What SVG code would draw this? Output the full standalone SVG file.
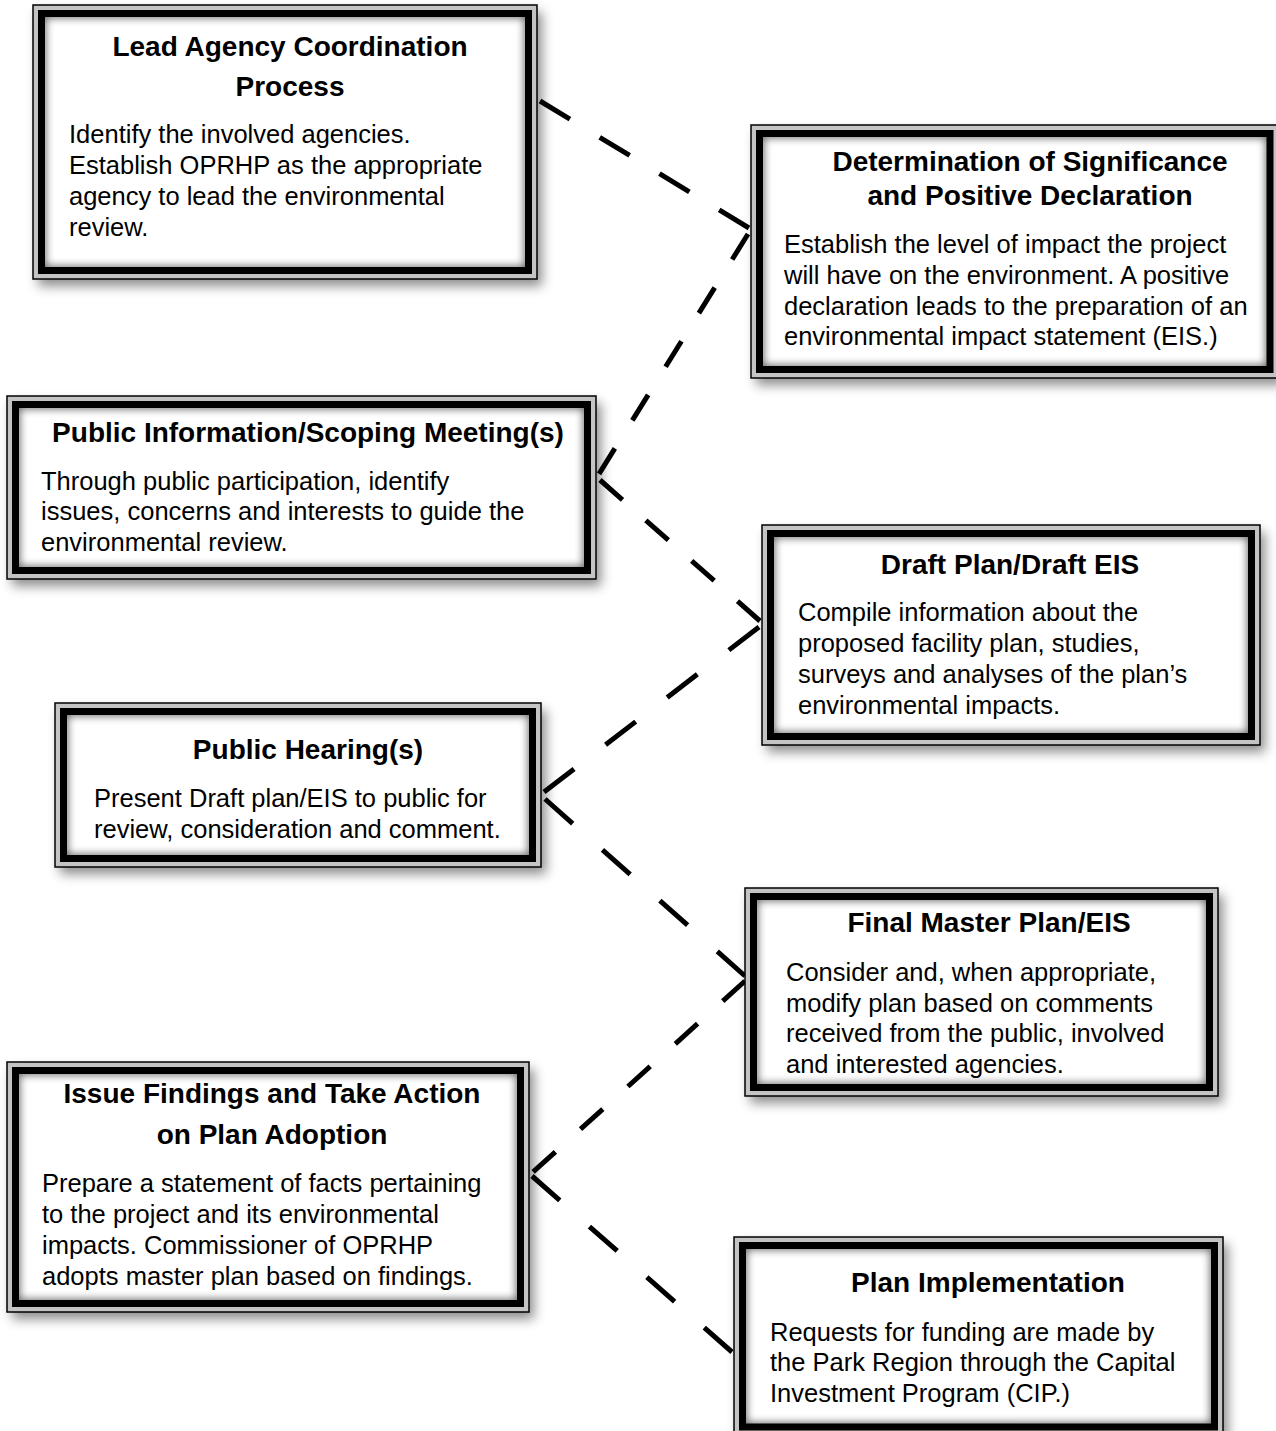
<svg xmlns="http://www.w3.org/2000/svg" width="1276" height="1431" viewBox="0 0 1276 1431">
<defs>
<filter id="ds" x="-10%" y="-10%" width="130%" height="130%">
<feDropShadow dx="5" dy="7" stdDeviation="6" flood-color="#000" flood-opacity="0.45"/>
</filter>
<filter id="blur" x="-10%" y="-10%" width="120%" height="120%">
<feGaussianBlur stdDeviation="4.5"/>
</filter>
<clipPath id="inner" clipPathUnits="objectBoundingBox"><rect x="0" y="0" width="1" height="1"/></clipPath>
<style>
.sh{fill:#fff;filter:url(#ds)}
.band{fill:#c4c4c4;stroke:#000;stroke-width:1.5}
.in{fill:#fff}
.ish{fill:none;stroke:#000;stroke-width:8;filter:url(#blur);clip-path:url(#inner);opacity:0.65}
.thick{fill:none;stroke:#000;stroke-width:7}
text{font-family:"Liberation Sans",Arial,Helvetica,sans-serif;fill:#000}
.t{font-size:28px;font-weight:bold;text-anchor:middle}
.b{font-size:25.5px}
.c{fill:none;stroke:#000;stroke-width:5;stroke-linecap:butt}
</style>
</defs>
<rect width="1276" height="1431" fill="#fff"/>

<g id="connectors">
<line class="c" x1="540" y1="101" x2="749" y2="228" stroke-dasharray="35 34.9"/>
<line class="c" x1="748" y1="234" x2="599" y2="474" stroke-dasharray="30 33.1"/>
<line class="c" x1="600" y1="480" x2="760" y2="621" stroke-dasharray="30 31.1"/>
<line class="c" x1="759" y1="627" x2="544" y2="792" stroke-dasharray="38 39.7"/>
<line class="c" x1="545" y1="799" x2="745" y2="976" stroke-dasharray="37 39.7"/>
<line class="c" x1="745" y1="981" x2="533" y2="1172" stroke-dasharray="30 33.8"/>
<line class="c" x1="532" y1="1176" x2="732" y2="1352" stroke-dasharray="37 39.5"/>
</g>

<g id="lead-agency">
<rect class="sh" x="33" y="5" width="504" height="274"/>
<rect class="band" x="33" y="5" width="504" height="274"/>
<rect class="in" x="41.5" y="13.5" width="487" height="257"/>
<rect class="ish" x="41.5" y="13.5" width="487" height="257"/>
<rect class="thick" x="41.5" y="13.5" width="487" height="257"/>
<text class="t" x="290" y="56">Lead Agency Coordination</text>
<text class="t" x="290" y="96">Process</text>
<text class="b" x="69" y="143">Identify the involved agencies.</text>
<text class="b" x="69" y="174">Establish OPRHP as the appropriate</text>
<text class="b" x="69" y="205">agency to lead the environmental</text>
<text class="b" x="69" y="236">review.</text>
</g>

<g id="determination">
<rect class="sh" x="751" y="125" width="527.5" height="253"/>
<rect class="band" x="751" y="125" width="527.5" height="253"/>
<rect class="in" x="759.5" y="133.5" width="510.5" height="236"/>
<rect class="ish" x="759.5" y="133.5" width="510.5" height="236"/>
<rect class="thick" x="759.5" y="133.5" width="510.5" height="236"/>
<text class="t" x="1030" y="171">Determination of Significance</text>
<text class="t" x="1030" y="205">and Positive Declaration</text>
<text class="b" x="784" y="253">Establish the level of impact the project</text>
<text class="b" x="784" y="284">will have on the environment. A positive</text>
<text class="b" x="784" y="315">declaration leads to the preparation of an</text>
<text class="b" x="784" y="345">environmental impact statement (EIS.)</text>
</g>

<g id="public-information">
<rect class="sh" x="7" y="396" width="589" height="183"/>
<rect class="band" x="7" y="396" width="589" height="183"/>
<rect class="in" x="15.5" y="404.5" width="572" height="166"/>
<rect class="ish" x="15.5" y="404.5" width="572" height="166"/>
<rect class="thick" x="15.5" y="404.5" width="572" height="166"/>
<text class="t" x="308" y="442">Public Information/Scoping Meeting(s)</text>
<text class="b" x="41" y="490">Through public participation, identify</text>
<text class="b" x="41" y="520">issues, concerns and interests to guide the</text>
<text class="b" x="41" y="551">environmental review.</text>
</g>

<g id="draft-plan">
<rect class="sh" x="762" y="525" width="498" height="220"/>
<rect class="band" x="762" y="525" width="498" height="220"/>
<rect class="in" x="770.5" y="533.5" width="481" height="203"/>
<rect class="ish" x="770.5" y="533.5" width="481" height="203"/>
<rect class="thick" x="770.5" y="533.5" width="481" height="203"/>
<text class="t" x="1010" y="574">Draft Plan/Draft EIS</text>
<text class="b" x="798" y="621">Compile information about the</text>
<text class="b" x="798" y="652">proposed facility plan, studies,</text>
<text class="b" x="798" y="683">surveys and analyses of the plan’s</text>
<text class="b" x="798" y="714">environmental impacts.</text>
</g>

<g id="public-hearing">
<rect class="sh" x="55" y="703" width="486" height="164"/>
<rect class="band" x="55" y="703" width="486" height="164"/>
<rect class="in" x="63.5" y="711.5" width="469" height="147"/>
<rect class="ish" x="63.5" y="711.5" width="469" height="147"/>
<rect class="thick" x="63.5" y="711.5" width="469" height="147"/>
<text class="t" x="308" y="759">Public Hearing(s)</text>
<text class="b" x="94" y="807">Present Draft plan/EIS to public for</text>
<text class="b" x="94" y="838">review, consideration and comment.</text>
</g>

<g id="final-master-plan">
<rect class="sh" x="745" y="888" width="473" height="208"/>
<rect class="band" x="745" y="888" width="473" height="208"/>
<rect class="in" x="753.5" y="896.5" width="456" height="191"/>
<rect class="ish" x="753.5" y="896.5" width="456" height="191"/>
<rect class="thick" x="753.5" y="896.5" width="456" height="191"/>
<text class="t" x="989" y="932">Final Master Plan/EIS</text>
<text class="b" x="786" y="981">Consider and, when appropriate,</text>
<text class="b" x="786" y="1012">modify plan based on comments</text>
<text class="b" x="786" y="1042">received from the public, involved</text>
<text class="b" x="786" y="1073">and interested agencies.</text>
</g>

<g id="issue-findings">
<rect class="sh" x="7" y="1062" width="522" height="250"/>
<rect class="band" x="7" y="1062" width="522" height="250"/>
<rect class="in" x="15.5" y="1070.5" width="505" height="233"/>
<rect class="ish" x="15.5" y="1070.5" width="505" height="233"/>
<rect class="thick" x="15.5" y="1070.5" width="505" height="233"/>
<text class="t" x="272" y="1103">Issue Findings and Take Action</text>
<text class="t" x="272" y="1144">on Plan Adoption</text>
<text class="b" x="42" y="1192">Prepare a statement of facts pertaining</text>
<text class="b" x="42" y="1223">to the project and its environmental</text>
<text class="b" x="42" y="1254">impacts. Commissioner of OPRHP</text>
<text class="b" x="42" y="1285">adopts master plan based on findings.</text>
</g>

<g id="plan-implementation">
<rect class="sh" x="734" y="1237" width="489" height="198.5"/>
<rect class="band" x="734" y="1237" width="489" height="198.5"/>
<rect class="in" x="742.5" y="1245.5" width="472" height="181.5"/>
<rect class="ish" x="742.5" y="1245.5" width="472" height="181.5"/>
<rect class="thick" x="742.5" y="1245.5" width="472" height="181.5"/>
<text class="t" x="988" y="1292">Plan Implementation</text>
<text class="b" x="770" y="1341">Requests for funding are made by</text>
<text class="b" x="770" y="1371">the Park Region through the Capital</text>
<text class="b" x="770" y="1402">Investment Program (CIP.)</text>
</g>
</svg>
